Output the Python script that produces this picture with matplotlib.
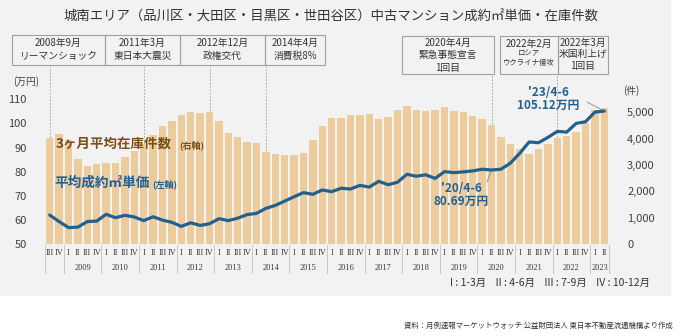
import numpy as np
import matplotlib
matplotlib.use("Agg")
import matplotlib.pyplot as plt
from matplotlib.patches import Rectangle

plt.rcParams['font.family'] = ['Noto Sans CJK JP', 'DejaVu Sans']

W, H = 691, 336

# quarters: 2008 III .. 2023 II
year_labels = ['2009', '2010', '2011', '2012', '2013', '2014', '2015', '2016',
               '2017', '2018', '2019', '2020', '2021', '2022', '2023']
quarter_names = ['I', 'II', 'III', 'IV']

# 3ヶ月平均在庫件数 (right axis)
stock = [4040, 4190,
         3950, 3230, 2970, 3040,
         3080, 3080, 3310, 3550,
         3800, 4140, 4490, 4680,
         4900, 5020, 4980, 5020,
         4680, 4220, 4070, 3890,
         3850, 3510, 3420, 3380,
         3380, 3460, 3950, 4500,
         4790, 4790, 4900, 4920,
         4940, 4750, 4840, 5090,
         5250, 5090, 5060, 5090,
         5210, 5060, 5020, 4870,
         4750, 4520, 4070, 3800,
         3600, 3420, 3600, 3800,
         4020, 4110, 4260, 4590,
         5090, 5160]

# 平均成約㎡単価 (left axis, 万円)
price = [62.0, 59.3,
         56.8, 57.0, 59.3, 59.5,
         62.3, 60.9, 61.9, 61.2,
         59.7, 61.3, 59.9, 59.0,
         57.3, 58.8, 57.7, 58.4,
         60.5, 59.7, 60.7, 62.2,
         62.7, 64.8, 66.0, 67.8,
         69.6, 71.3, 70.6, 72.4,
         71.7, 73.1, 72.8, 74.3,
         73.6, 76.0, 74.6, 75.6,
         78.9, 78.1, 78.7, 77.2,
         80.0, 79.6, 79.9, 80.3,
         81.0, 80.69, 81.0, 83.5,
         87.6, 92.3, 92.0, 94.2,
         96.7, 96.4, 100.0, 100.7,
         104.7, 105.12]

left_ticks = [50, 60, 70, 80, 90, 100, 110]
right_ticks = [0, 1000, 2000, 3000, 4000, 5000]

# event index (quarter) and box texts
event_idx = [0, 10, 17, 23, 47, 54]

BAR_C = '#eccb9c'
LINE_C = '#22618f'
BROWN = '#7a4f14'
TXT = '#333333'


def fx(x):
    return x / W


def fy(y):
    return 1 - y / H


# build quarter/year lists
quarters = ['III', 'IV'] + quarter_names * 14 + ['I', 'II']
years = ['2008'] * 2
for yl in year_labels[:-1]:
    years += [yl] * 4
years += ['2023'] * 2
x = np.arange(len(stock))

fig = plt.figure(figsize=(W / 100, H / 100), dpi=100)
fig.patches.append(Rectangle((0, fy(295)), fx(670), 1 - fy(295),
                             transform=fig.transFigure, color='#f2f2f2', zorder=-10))

ax = fig.add_axes([fx(45), fy(244), fx(564), (244 - 99.3) / H])
ax.patch.set_visible(False)
ax.bar(x, stock, width=0.8, color=BAR_C, zorder=2)
ax.set_xlim(-0.5, len(stock) - 0.5)
ax.set_ylim(0, 5500)
ax.set_xticks([])
for s in ax.spines.values():
    s.set_visible(False)

axl = ax.twinx()
axl.plot(x, price, color=LINE_C, lw=2.3, zorder=5, solid_capstyle='round')
axl.set_ylim(50, 110)
axl.yaxis.tick_left()
axl.set_yticks(left_ticks)
axl.tick_params(axis='y', length=0, pad=13, labelsize=8, colors='#404040')
for s in axl.spines.values():
    s.set_visible(False)

# right axis (twinx moved it to the left, put it back)
ax.yaxis.tick_right()
ax.set_yticks(right_ticks)
ax.set_yticklabels([f'{t:,}' for t in right_ticks])
ax.tick_params(axis='y', length=0, pad=13, labelsize=8, colors='#404040')

# category axis: quarters and years
tr = ax.get_xaxis_transform()
for i, q in enumerate(quarters):
    ax.text(i, -0.062, q, transform=tr, ha='center', va='center', fontsize=6,
            family='Liberation Serif', color='#3a3a3a')
bounds = [-0.5] + [i + 0.5 for i in range(len(years) - 1) if years[i] != years[i + 1]] + [len(years) - 0.5]
for b in bounds:
    ax.plot([b, b], [-0.007, -0.2], transform=tr, color='#c8c8c8', lw=0.7, clip_on=False)
for k in range(1, len(bounds) - 1):
    ax.text((bounds[k] + bounds[k + 1]) / 2, -0.166, years[int(bounds[k] + 0.5)], transform=tr,
            ha='center', va='center', fontsize=6, family='Liberation Serif', color='#3a3a3a')

# event lines
for n, i in enumerate(event_idx):
    top = (244 - 66) / 144.7 if n < 4 else (244 - 75) / 144.7
    ax.plot([i, i], [0, top], transform=tr, color='#999999', lw=0.6, ls=(0, (2, 2)),
            clip_on=False, zorder=1)

# event boxes (pixel rect, lines, y of lines, fontsizes)
boxes = [
    ((12, 35, 105, 65), ['2008年9月', 'リーマンショック'], [43, 56], [7, 7]),
    ((105, 35, 180, 65), ['2011年3月', '東日本大震災'], [43, 56], [7, 7]),
    ((180, 35, 265, 65), ['2012年12月', '政権交代'], [43, 56], [7, 7]),
    ((265, 35, 325, 65), ['2014年4月', '消費税8%'], [43, 56], [7, 7]),
    ((402, 36, 494, 74), ['2020年4月', '緊急事態宣言', '1回目'], [43, 55, 67.5], [7, 7, 7]),
    ((500, 36, 558, 74), ['2022年2月', 'ロシア', 'ウクライナ侵攻'], [44, 53.5, 62.5], [7, 5.3, 5.3]),
    ((558, 36, 608, 74), ['2022年3月', '米国利上げ', '1回目'], [43, 54, 66], [7, 7, 7]),
]
for (x0, y0, x1, y1), lines, ys, fss in boxes:
    fig.patches.append(Rectangle((fx(x0), fy(y1)), fx(x1 - x0), (y1 - y0) / H,
                                 transform=fig.transFigure, fill=False,
                                 edgecolor='#a0a0a0', lw=0.8))
    for t, yy, fs in zip(lines, ys, fss):
        fig.text(fx((x0 + x1) / 2), fy(yy), t, ha='center', va='center', fontsize=fs, color=TXT)

# title and axis units
fig.text(fx(331), fy(17), '城南エリア（品川区・大田区・目黒区・世田谷区）中古マンション成約㎡単価・在庫件数',
         ha='center', va='center', fontsize=9.6, color=TXT)
fig.text(fx(13), fy(82), '(万円)', ha='left', va='center', fontsize=7, color='#404040')
fig.text(fx(623), fy(91), '(件)', ha='left', va='center', fontsize=7, color='#404040')

# series labels
fig.text(fx(56), fy(144), '3ヶ月平均在庫件数', ha='left', va='center', fontsize=9.7,
         fontweight='bold', color=BROWN)
fig.text(fx(179), fy(145), '(右軸)', ha='left', va='center', fontsize=6.5,
         fontweight='bold', color=BROWN)
fig.text(fx(54), fy(183), '平均成約㎡単価', ha='left', va='center', fontsize=9.8,
         fontweight='bold', color=LINE_C)
fig.text(fx(152), fy(184), '(左軸)', ha='left', va='center', fontsize=6.5,
         fontweight='bold', color=LINE_C)

# value callouts
axl.annotate('', xy=(47, price[47]), xytext=(fx(487), fy(182)), textcoords='figure fraction',
             arrowprops=dict(arrowstyle='-', color='#888888', lw=0.6, shrinkA=0, shrinkB=0))
fig.text(fx(461), fy(195), "'20/4-6\n80.69万円", ha='center', va='center', fontsize=8.5,
         fontweight='bold', color=LINE_C, linespacing=1.05)
axl.annotate('', xy=(59, price[59]), xytext=(fx(587), fy(102)), textcoords='figure fraction',
             arrowprops=dict(arrowstyle='-', color='#888888', lw=0.6, shrinkA=0, shrinkB=0))
fig.text(fx(548), fy(99), "'23/4-6\n105.12万円", ha='center', va='center', fontsize=8.5,
         fontweight='bold', color=LINE_C, linespacing=1.05)

# quarter legend and source
fig.text(fx(650), fy(283), 'I : 1-3月    II : 4-6月    III : 7-9月    IV : 10-12月',
         ha='right', va='center', fontsize=7.5, color=TXT)
fig.text(fx(673), fy(326), '資料：月例速報マーケットウォッチ 公益財団法人 東日本不動産流通機構より作成',
         ha='right', va='center', fontsize=5.3, color=TXT)

fig.savefig('out.png', dpi=100, facecolor='white')
